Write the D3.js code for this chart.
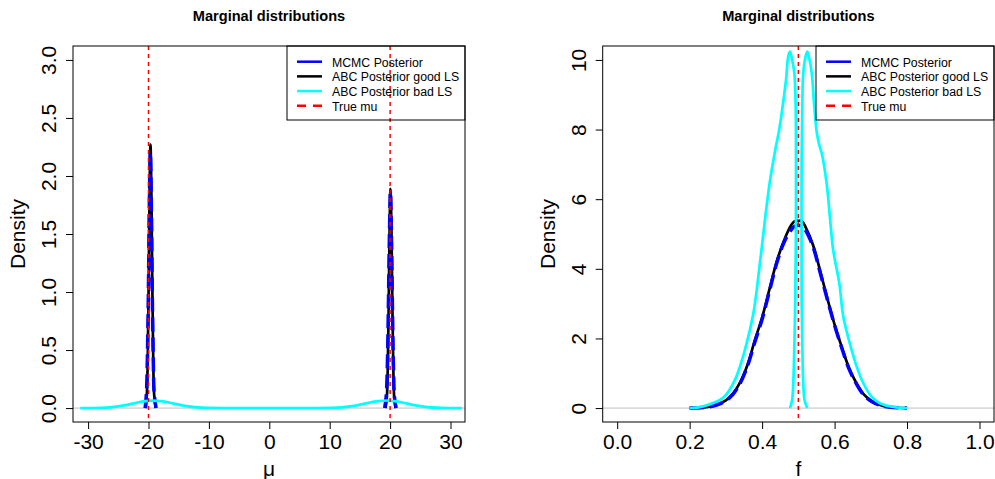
<!DOCTYPE html>
<html>
<head>
<meta charset="utf-8">
<script src="https://cdn.jsdelivr.net/npm/d3@7"></script>
<style>
body { margin: 0; background: #fff; }
svg { display: block; font-family: "Liberation Sans", Arial, sans-serif; }
</style>
</head>
<body>
<svg></svg>
<script>
// ---- data ----
const legendLabels = ["MCMC Posterior", "ABC Posterior good LS", "ABC Posterior bad LS", "True mu"];

// left panel: mu (null = break between the two peaks)
const mcmcMuX = [-20.55,-20.35,-20.18,-20.0,-19.85,-19.7,-19.55,-19.4,-19.22,-19.05,-18.75, null,
                 19.1,19.35,19.55,19.72,19.9,20.05,20.2,20.38,20.55,20.75,21.0];
const mcmcMuY = [0,0.12,0.45,1.08,1.8,2.2,1.82,1.1,0.45,0.12,0, null,
                 0,0.1,0.38,0.9,1.52,1.86,1.55,0.9,0.36,0.08,0];
const goodMuX = [-20.45,-20.27,-20.12,-19.97,-19.82,-19.67,-19.52,-19.37,-19.22,-19.07,-18.8, null,
                 19.25,19.47,19.62,19.77,19.92,20.07,20.22,20.37,20.52,20.67,20.9];
const goodMuY = [0,0.12,0.45,1.1,1.88,2.27,1.85,1.08,0.44,0.12,0, null,
                 0,0.1,0.37,0.9,1.56,1.89,1.56,0.92,0.38,0.1,0];
const badMuX = [-31.3,-28,-26,-24,-22,-20.5,-19.5,-18,-16,-14,-12,-10,-6,0,6,10,12,14,16,18,19.7,20.7,22.2,24.2,26.2,28.4,31.9];
const badMuY = [0,0.002,0.008,0.023,0.046,0.06,0.065,0.06,0.041,0.019,0.006,0.0015,0,0,0,0.0015,0.006,0.019,0.041,0.06,0.065,0.06,0.046,0.023,0.008,0.002,0];
const trueMu = [-20, 20];
const muXTicks = [-30, -20, -10, 0, 10, 20, 30];
const muYTicks = [0, 0.5, 1, 1.5, 2, 2.5, 3];

// right panel: f
const fGridX = [0.20,0.25,0.28,0.30,0.32,0.34,0.36,0.38,0.40,0.42,0.44,0.46,0.48,0.49,0.50,0.51,0.52,0.54,0.56,0.58,0.60,0.62,0.64,0.66,0.68,0.70,0.72,0.75,0.80];
const mcmcFY = [0,0.03,0.11,0.21,0.4,0.72,1.22,1.9,2.55,3.35,4.15,4.75,5.12,5.22,5.25,5.22,5.1,4.65,3.9,3.12,2.38,1.72,1.12,0.7,0.38,0.2,0.1,0.03,0];
const goodFY = [0,0.03,0.12,0.22,0.42,0.75,1.25,1.95,2.6,3.4,4.2,4.8,5.25,5.37,5.38,5.37,5.2,4.7,3.95,3.15,2.4,1.75,1.15,0.72,0.4,0.22,0.11,0.03,0];
const badFX = [0.2,0.237,0.293,0.325,0.355,0.376,0.394,0.41,0.422,0.438,0.447,0.454,0.466,0.472,0.477,
               0.483,0.489,0.4926,0.4935,0.4932,0.4915,0.489,0.486,0.483,0.477, null,
               0.5245,0.517,0.5135,0.511,0.509,0.5088,0.509,0.5108,0.5135,0.519,0.5245,
               0.530,0.537,0.544,0.551,0.558,0.565,0.578,0.587,0.596,0.613,0.624,0.647,0.661,0.679,0.702,0.725,0.762,0.8];
const badFY = [0,0.05,0.3,0.81,1.77,2.73,4.17,5.6,6.55,7.51,7.99,8.47,9.43,10.1,10.24,
               10.0,9.62,8.66,7.18,5.0,3.1,1.8,0.72,0.24,0, null,
               0,0.24,0.72,1.8,3.1,5.0,7.18,8.66,9.62,10.05,10.24,
               10.05,9.62,8.66,7.9,7.55,7.3,6.46,5.5,4.55,3.59,2.63,1.67,1.19,0.72,0.33,0.14,0.03,0];
const trueF = [0.5];
const fXTicks = [0, 0.2, 0.4, 0.6, 0.8, 1.0];
const fYTicks = [0, 2, 4, 6, 8, 10];

// ---- drawing ----
const W = 995, H = 479;
const plotTop = 46, plotBottom = 422;
const svg = d3.select("svg").attr("width", W).attr("height", H);

const zip = (xs, ys) => xs.map((v, i) => [v, ys[i]]);

function drawPanel(p) {
    var x = d3.scaleLinear().domain(p.xDomain).range([p.left, p.right]);
    var y = d3.scaleLinear().domain(p.yDomain).range([plotBottom, plotTop]);
    var g = svg.append("g");

    // zero line
    g.append("line")
        .attr("x1", p.left).attr("x2", p.right)
        .attr("y1", y(0)).attr("y2", y(0))
        .attr("stroke", "#bebebe").attr("stroke-width", 1);

    var line = d3.line()
        .defined(d => d[0] != null)
        .x(d => x(d[0])).y(d => y(d[1]))
        .curve(d3.curveCatmullRom.alpha(0.5));

    p.series.forEach(s => {
        g.append("path")
            .attr("d", line(zip(s.xs, s.ys)))
            .attr("fill", "none")
            .attr("stroke", s.color)
            .attr("stroke-width", s.width)
            .attr("stroke-dasharray", s.dash || null)
            .attr("stroke-linejoin", "round");
    });

    // true values
    g.selectAll(".truth").data(p.truth).enter().append("line")
        .attr("x1", d => x(d)).attr("x2", d => x(d))
        .attr("y1", plotTop).attr("y2", plotBottom)
        .attr("stroke", "red").attr("stroke-width", 1.5)
        .attr("stroke-dasharray", "4,4");

    // box
    g.append("rect")
        .attr("x", p.left).attr("y", plotTop)
        .attr("width", p.right - p.left).attr("height", plotBottom - plotTop)
        .attr("fill", "none").attr("stroke", "#000");

    // x axis
    var xa = g.append("g").attr("transform", `translate(0,${plotBottom})`)
        .call(d3.axisBottom(x).tickValues(p.xTicks).tickFormat(p.xFmt).tickSize(7).tickPadding(5));
    xa.select(".domain").remove();
    xa.attr("font-family", null).attr("font-size", null);
    xa.selectAll("text").attr("font-size", 21).attr("fill", "#000");

    // y axis, labels parallel to the axis
    var ya = g.append("g").attr("transform", `translate(${p.left},0)`)
        .call(d3.axisLeft(y).tickValues(p.yTicks).tickFormat(p.yFmt).tickSize(7));
    ya.select(".domain").remove();
    ya.attr("font-family", null).attr("font-size", null);
    ya.selectAll("text")
        .attr("x", 0).attr("dy", 0)
        .attr("transform", "translate(-17,0) rotate(-90)")
        .attr("text-anchor", "middle")
        .attr("font-size", 21).attr("fill", "#000");

    var cx = (p.left + p.right) / 2;
    g.append("text").attr("x", cx).attr("y", 20.5)
        .attr("text-anchor", "middle").attr("font-weight", "bold").attr("font-size", 14.6)
        .text("Marginal distributions");
    g.append("text").attr("x", cx).attr("y", 476)
        .attr("text-anchor", "middle").attr("font-size", 21)
        .text(p.xLabel);
    g.append("text")
        .attr("transform", `translate(${p.left - 48},${(plotTop + plotBottom) / 2}) rotate(-90)`)
        .attr("text-anchor", "middle").attr("font-size", 21)
        .text("Density");

    // legend
    var lx = p.right - 178;
    g.append("rect").attr("x", lx).attr("y", plotTop)
        .attr("width", 178).attr("height", 74)
        .attr("fill", "none").attr("stroke", "#000");
    var legendStyles = [
        { color: "blue", dash: null },
        { color: "black", dash: null },
        { color: "cyan", dash: null },
        { color: "red", dash: "9,7" }
    ];
    legendLabels.forEach((lab, i) => {
        var ly = 61.7 + i * 14.67;
        g.append("line").attr("x1", lx + 10).attr("x2", lx + 35)
            .attr("y1", ly).attr("y2", ly)
            .attr("stroke", legendStyles[i].color).attr("stroke-width", 2.5)
            .attr("stroke-dasharray", legendStyles[i].dash);
        g.append("text").attr("x", lx + 45).attr("y", ly + 5)
            .attr("font-size", 12.3).text(lab);
    });
}

drawPanel({
    left: 73, right: 465,
    xDomain: [-32.5, 32.4], yDomain: [-0.12, 3.12],
    xTicks: muXTicks, yTicks: muYTicks,
    xFmt: d => String(d), yFmt: d3.format(".1f"),
    xLabel: "μ",
    truth: trueMu,
    series: [
        { xs: goodMuX, ys: goodMuY, color: "black", width: 2.7 },
        { xs: mcmcMuX, ys: mcmcMuY, color: "blue", width: 3.5, dash: "14,6" },
        { xs: badMuX, ys: badMuY, color: "cyan", width: 2.7 }
    ]
});

drawPanel({
    left: 602.7, right: 994,
    xDomain: [-0.04, 1.04], yDomain: [-0.4, 10.4],
    xTicks: fXTicks, yTicks: fYTicks,
    xFmt: d3.format(".1f"), yFmt: d => String(d),
    xLabel: "f",
    truth: trueF,
    series: [
        { xs: fGridX, ys: goodFY, color: "black", width: 2.7 },
        { xs: fGridX, ys: mcmcFY, color: "blue", width: 3.5, dash: "14,6" },
        { xs: badFX, ys: badFY, color: "cyan", width: 2.7 }
    ]
});
</script>
</body>
</html>
